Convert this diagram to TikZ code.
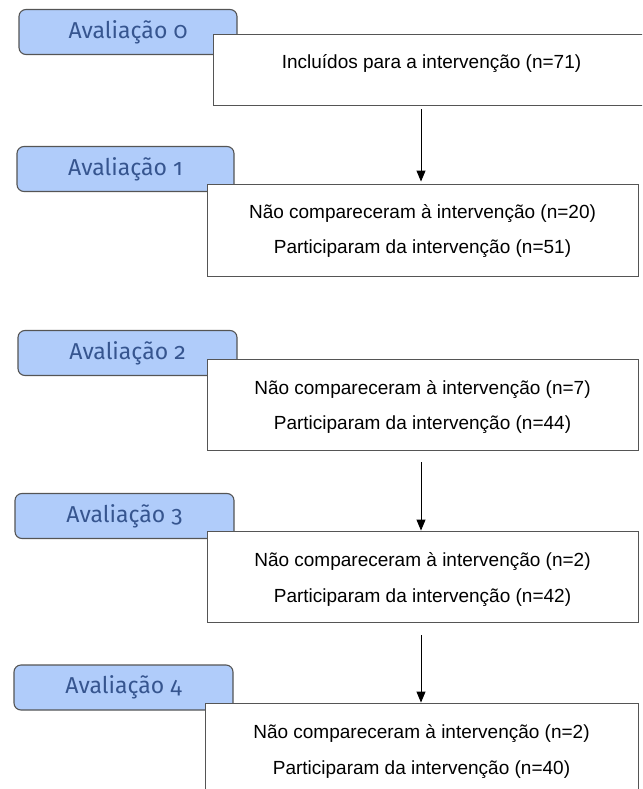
\documentclass[tikz,border=0pt]{standalone}
\usepackage{fontspec}
\setmainfont{Liberation Sans}
\newfontfamily\labelfont[Numbers=OldStyle]{Fira Sans}
\usetikzlibrary{arrows.meta}
\definecolor{lblue}{HTML}{B0CCFA}
\definecolor{lbtext}{HTML}{36558F}
\definecolor{edgegray}{HTML}{555555}
\tikzset{
  evalbox/.style={draw=edgegray, line width=1.1pt, fill=lblue, rounded corners=7pt,
    minimum height=45pt, inner sep=0pt, font=\labelfont\fontsize{23}{26}\selectfont, text=lbtext},
  flowbox/.style={draw=edgegray, line width=0.9pt, fill=white, inner sep=0pt},
  flowtext/.style={font=\fontsize{19}{22}\selectfont, inner sep=0pt, anchor=center},
  arr/.style={draw=black, line width=1pt, -{Triangle[width=9pt,length=11pt]}}
}
\begin{document}
\begin{tikzpicture}[x=1pt,y=-1pt]
\useasboundingbox (0,0) rectangle (642,789);
\clip (0,0) rectangle (642,789);
\coordinate (ax) at (421,0);
% evaluation labels
\node[evalbox, minimum width=218pt] (a0) at (128,32) {Avaliação 0};
\node[evalbox, minimum width=217pt] (a1) at (125.5,169) {Avaliação 1};
\node[evalbox, minimum width=219pt] (a2) at (127.5,353) {Avaliação 2};
\node[evalbox, minimum width=219pt] (a3) at (124.5,516) {Avaliação 3};
\node[evalbox, minimum width=219pt] (a4) at (123.5,687.5) {Avaliação 4};
% flow boxes
\node[flowbox, minimum width=437pt, minimum height=71pt] (w0) at (431.5,69.5) {};
\node[flowbox, minimum width=431pt, minimum height=92pt] (w1) at (422.5,230) {};
\node[flowbox, minimum width=431pt, minimum height=91pt] (w2) at (422.5,404.5) {};
\node[flowbox, minimum width=431pt, minimum height=91pt] (w3) at (422.5,576.5) {};
\node[flowbox, minimum width=433pt, minimum height=100pt] (w4) at (421.5,753) {};
% texts
\node[flowtext] (t0) at (431.5,64) {Incluídos para a intervenção (n=71)};
\node[flowtext] (t1a) at (422.5,214) {Não compareceram à intervenção (n=20)};
\node[flowtext] (t1b) at (422.5,249) {Participaram da intervenção (n=51)};
\node[flowtext] (t2a) at (422.5,390) {Não compareceram à intervenção (n=7)};
\node[flowtext] (t2b) at (422.5,425) {Participaram da intervenção (n=44)};
\node[flowtext] (t3a) at (422.5,562) {Não compareceram à intervenção (n=2)};
\node[flowtext] (t3b) at (422.5,598) {Participaram da intervenção (n=42)};
\node[flowtext] (t4a) at (421.5,734) {Não compareceram à intervenção (n=2)};
\node[flowtext] (t4b) at (421.5,770) {Participaram da intervenção (n=40)};
% arrows
\draw[arr, shorten <=4pt, shorten >=2pt] (w0.south -| ax) -- (w1.north -| ax);
\draw[arr, shorten <=12pt] (w2.south -| ax) -- (w3.north -| ax);
\draw[arr, shorten <=13pt] (w3.south -| ax) -- (w4.north -| ax);
\end{tikzpicture}
\end{document}
